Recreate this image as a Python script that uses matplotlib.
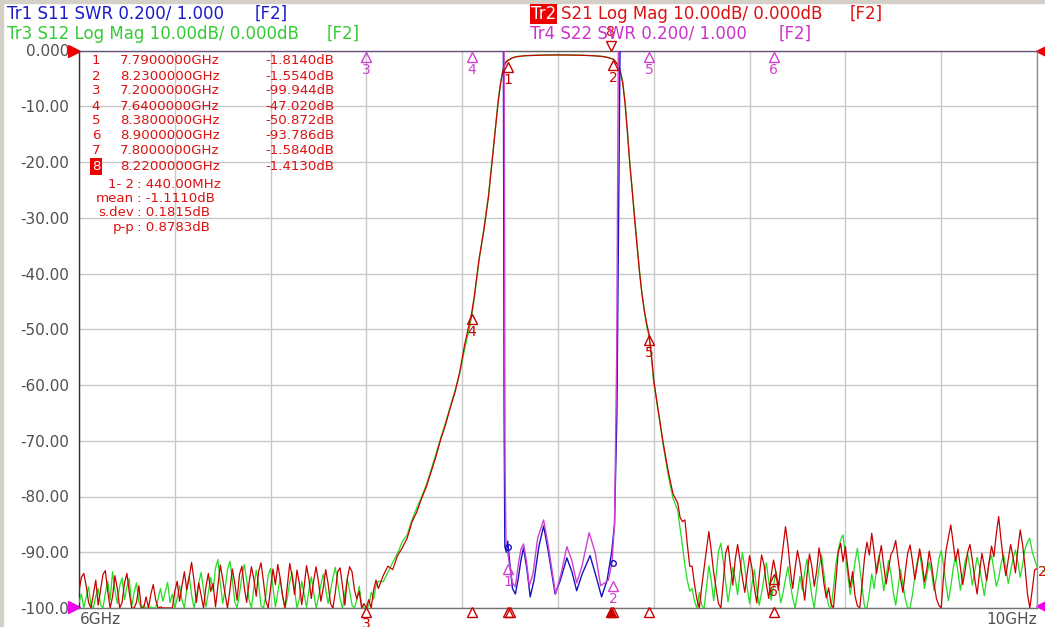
import numpy as np
import matplotlib
matplotlib.use("Agg")
import matplotlib.pyplot as plt
from matplotlib.transforms import offset_copy

plt.rcParams['font.family'] = ['DejaVu Sans']

W, H = 1045, 627

# ---- S21 (red) / S12 (green) log mag traces, dB ----
# noise floor below the passband, 6.00 .. 7.25 GHz every 10 MHz
s21_floor_lo = [
    -97, -94.5, -93.8, -96, -99, -101, -97.5, -95, -99.5, -96.8,
    -94, -93.3, -97, -100.5, -98, -94.2, -96.5, -101, -99, -95.5,
    -93.8, -97.2, -100.5, -102, -99, -96, -100.5, -101, -98, -100.8,
    -97.5, -95.8, -98.5, -101, -99.8, -100.5, -102, -101, -100.5, -101.5,
    -97, -95.2, -98.8, -96, -93.5, -96.8, -94.5, -91.8, -95, -99,
    -95.5, -97.8, -100.5, -96.2, -93.8, -97, -95.6, -99.8, -96, -92.3,
    -94.8, -97.5, -100.2, -96.8, -93, -95.4, -98.6, -94, -92.5, -96.3,
    -99, -95.5, -92.6, -94.8, -97.9, -93.4, -91.9, -95.2, -98.7, -100.5,
    -96.4, -93, -95.8, -92.2, -94.7, -97.8, -100.3, -96, -92, -94.4,
    -97.6, -93.2, -95.5, -99.4, -96.2, -92.4, -94.8, -98.3, -95, -92.6,
    -95.3, -98.8, -96.4, -93.1, -95.6, -99.2, -101, -97.3, -93.5, -92.8,
    -96, -99.5, -94.8, -92.6, -93.5, -96.7, -98.4, -97, -100.8, -99.2,
    -100.5, -98.5, -100, -96.8, -95, -96.5]
s12_floor_lo = [
    -99, -97.5, -100.5, -98, -96.2, -99.5, -101, -97.8, -96.5, -99.4,
    -100.5, -97.3, -95.2, -98.6, -93.5, -96.8, -99.2, -96, -94.6, -98.5,
    -96.2, -94.7, -99.8, -97.2, -95.5, -98.9, -100.8, -99.5, -101, -100.5,
    -99.8, -101.2, -100.5, -98.4, -96.5, -98.8, -97.1, -95.4, -99, -97.5,
    -100.8, -98.2, -96, -98.5, -100.6, -96.5, -94.2, -97.6, -100.5, -98,
    -95.5, -93.6, -96.8, -99.8, -97.1, -94.5, -96.9, -92.8, -91.3, -95.6,
    -99.2, -96.6, -93.1, -91.6, -94.7, -98.8, -101, -97.5, -94.3, -92.2,
    -94.9, -98.5, -100.8, -96.4, -93.2, -95.7, -99.6, -101, -97.8, -94.1,
    -92.9, -96.3, -99.8, -97.2, -94.6, -97.9, -100.6, -98.2, -95.3, -93.6,
    -96.7, -100.2, -98.4, -95.2, -97.6, -99.9, -96.8, -94.4, -97.3, -100.4,
    -98.1, -95.8, -93.9, -96.5, -99.2, -97, -94.6, -92.7, -95.4, -98.3,
    -100.6, -97.4, -94.8, -96.9, -99.5, -101, -98.6, -96.1, -99.3, -100.8,
    -101, -99.6, -97.2, -98.4, -96, -95.2]

# lower skirt
rise_freq = [7.27, 7.29, 7.31, 7.33, 7.35, 7.37, 7.39, 7.41, 7.43, 7.45,
             7.47, 7.49, 7.51, 7.53, 7.55, 7.57, 7.59, 7.61, 7.63, 7.64,
             7.65, 7.67, 7.69, 7.71, 7.73, 7.75, 7.76, 7.77, 7.78, 7.79]
s21_rise = [-94.2, -92.5, -93.1, -90.6, -89.2, -87.5, -84.6, -82.8, -80.4, -78.3,
            -75.6, -72.9, -69.8, -67.2, -64.1, -61.3, -57.6, -52.8, -48.9, -47.0,
            -44.2, -37.5, -32.4, -26.2, -17.8, -9.3, -6.0, -3.6, -2.3, -1.81]
s12_rise = [-95.3, -93.6, -91.8, -90.2, -88.1, -86.9, -84.2, -82.1, -80.1, -77.9,
            -75.2, -72.4, -69.5, -66.8, -63.9, -61.0, -57.9, -53.6, -49.8, -47.6,
            -44.6, -37.8, -32.1, -25.8, -17.5, -9.0, -5.8, -3.4, -2.1, -1.7]

# passband
pass_freq = [7.80, 7.81, 7.83, 7.86, 7.90, 7.95, 8.00, 8.05, 8.10, 8.15, 8.18, 8.20, 8.22, 8.23]
s21_pass = [-1.58, -1.3, -1.1, -0.95, -0.88, -0.82, -0.8, -0.82, -0.86, -0.95, -1.05, -1.18, -1.41, -1.55]
s12_pass = [-1.55, -1.28, -1.07, -0.93, -0.86, -0.8, -0.78, -0.8, -0.84, -0.93, -1.03, -1.16, -1.39, -1.52]

# upper skirt
fall_freq = [8.24, 8.25, 8.26, 8.27, 8.28, 8.29, 8.30, 8.31, 8.32, 8.33,
             8.34, 8.35, 8.36, 8.37, 8.38, 8.39, 8.40, 8.42, 8.44, 8.46,
             8.48, 8.50, 8.51, 8.52, 8.53, 8.54, 8.55]
s21_fall = [-2.0, -2.6, -3.8, -5.8, -9.5, -14.8, -20.5, -25.2, -30.3, -35.0,
            -39.6, -43.5, -46.6, -48.9, -50.87, -54.5, -59.2, -65.0, -70.6, -75.4,
            -79.5, -81.2, -83.8, -84.5, -84.2, -88.6, -92.5]
s12_fall = [-1.95, -2.5, -3.6, -5.5, -9.2, -14.5, -20.2, -25.0, -30.0, -34.8,
            -39.4, -43.4, -46.5, -49.5, -51.2, -55.0, -59.6, -65.2, -71.0, -76.2,
            -80.3, -82.5, -85.8, -88.9, -92.4, -95.1, -97.0]

# noise floor above the passband, 8.56 .. 10.00 GHz every 10 MHz
s21_floor_hi = [
    -92.5, -95.8, -98.4, -101, -96.2, -92.8, -89.5, -86.3, -89.8, -93.6,
    -96.5, -99.2, -101, -95.4, -90.2, -88.8, -92.4, -95.9, -91.3, -88.6,
    -91.5, -94.6, -97.2, -93.8, -90.6, -92.9, -96.4, -99.1, -94.3, -90.5,
    -92.2, -95.8, -98.3, -94.1, -91.4, -93.7, -96.8, -92.5, -88.9, -85.4,
    -88.7, -93.2, -96.5, -92.8, -89.7, -91.9, -95.2, -98.6, -94, -90.3,
    -92.6, -96.1, -93.4, -89.2, -91.8, -95.5, -98.2, -96.4, -99.3, -101.5,
    -95.2, -90.1, -88.4, -91.7, -89, -92.8, -96.3, -93.5, -97.8, -99.6,
    -101.2, -95.6, -90.9, -88.2, -90.5, -86.6, -89.9, -93.8, -91.2, -88.8,
    -92.4, -95.7, -93.1, -90.4, -89.6, -87.9, -91.3, -94.6, -97.2, -93.5,
    -90.2, -88.7, -91.6, -94.9, -92.3, -89.4, -91.8, -95.3, -93.1, -89.8,
    -92.4, -95.6, -98.3, -99.5, -101, -94.2, -89.7, -87.4, -85.1, -88.3,
    -91.6, -89.4, -92.7, -95.8, -93.2, -90.1, -88.6, -91.4, -94.8, -97.5,
    -93.6, -90.2, -92.5, -95.1, -91.7, -88.9, -90.8, -86.7, -83.6, -87.9,
    -91.5, -94.2, -91.3, -88.6, -90.9, -93.7, -89.4, -86, -88.7, -92.6,
    -97.4, -101.5, -96.8, -93.2, -92.9]
s12_floor_hi = [
    -96.5, -98.8, -100.6, -97.2, -99.5, -101, -96.3, -92.4, -95.1, -98.7,
    -94.2, -89.8, -88.4, -91.6, -95.3, -98.9, -96.1, -92.7, -94.8, -97.6,
    -93.5, -90.1, -92.8, -96.4, -99.2, -95.7, -93.1, -96.8, -99.5, -97.3,
    -94.6, -91.9, -95.2, -98.6, -96, -93.4, -95.9, -99.1, -97.2, -94.8,
    -92.6, -95.7, -98.2, -100.8, -97.4, -94.3, -96.8, -93.5, -91.2, -94.6,
    -97.9, -100.5, -96.3, -92.8, -90.4, -93.7, -97.1, -99.6, -101.2, -96.5,
    -92.2, -89.6, -87.8, -86.9, -90.5, -94.2, -97.6, -95.1, -91.8, -89.3,
    -92.7, -96.4, -99.8, -101, -97.3, -93.9, -96.5, -92.8, -90.6, -93.4,
    -96.9, -94.2, -91.5, -93.8, -97.2, -99.5, -96.3, -93.1, -95.8, -98.4,
    -100.8, -101.5, -97.6, -94.3, -91.7, -90.2, -92.9, -96.5, -94.1, -91.8,
    -93.6, -96.9, -94.5, -91.3, -89.7, -92.4, -95.8, -98.7, -96.2, -92.9,
    -90.8, -93.5, -96.8, -94.1, -91.6, -90.3, -92.7, -95.9, -93.4, -90.9,
    -92.6, -95.3, -97.8, -94.6, -91.9, -90.5, -93.2, -96.1, -94.7, -92,
    -90.4, -92.8, -95.6, -93.3, -91.1, -89.6, -91.8, -94.5, -92.2, -89.4,
    -88.2, -87.5, -89.9, -91.3, -92.6]

# ---- S11 (blue) / S22 (magenta) SWR traces ----
s11_freq = [6.0, 7.772, 7.775, 7.778, 7.784, 7.79, 7.80, 7.81, 7.822, 7.833,
            7.845, 7.856, 7.87, 7.884, 7.90, 7.92, 7.94, 7.96, 7.988, 8.01,
            8.037, 8.058, 8.078, 8.10, 8.134, 8.16, 8.182, 8.205, 8.224, 8.236,
            8.246, 8.253, 8.259, 10.0]
s11_swr = [3.5, 3.5, 1.7, 1.22, 1.2, 1.24, 1.15, 1.07, 1.05, 1.1,
           1.17, 1.216, 1.14, 1.04, 1.1, 1.22, 1.294, 1.2, 1.05, 1.1,
           1.18, 1.13, 1.062, 1.12, 1.188, 1.11, 1.04, 1.1, 1.2, 1.3,
           1.7, 2.4, 3.5, 3.5]
s22_freq = [6.0, 7.775, 7.779, 7.783, 7.79, 7.80, 7.81, 7.822, 7.835, 7.845,
            7.856, 7.868, 7.88, 7.895, 7.915, 7.94, 7.96, 7.99, 8.012, 8.037,
            8.058, 8.078, 8.10, 8.13, 8.155, 8.178, 8.195, 8.21, 8.225, 8.236,
            8.245, 8.252, 10.0]
s22_swr = [3.5, 3.5, 1.5, 1.22, 1.2, 1.14, 1.09, 1.076, 1.16, 1.21,
           1.23, 1.17, 1.08, 1.12, 1.25, 1.316, 1.22, 1.05, 1.12, 1.22,
           1.17, 1.09, 1.15, 1.27, 1.2, 1.08, 1.09, 1.1, 1.16, 1.3,
           1.9, 3.5, 3.5]

# ---- markers ----
mk_ids = ['1', '2', '3', '4', '5', '6', '7', '8']
mk_freq = [7.79, 8.23, 7.2, 7.64, 8.38, 8.9, 7.8, 8.22]
mk_val = [-1.814, -1.554, -99.944, -47.02, -50.872, -93.786, -1.584, -1.413]
stat_names = ['1- 2', 'mean', 's.dev', 'p-p']
stat_vals = ['440.00MHz', '-1.1110dB', '0.1815dB', '0.8783dB']

ytick_vals = [0, -10, -20, -30, -40, -50, -60, -70, -80, -90, -100]
ytick_text = ['0.000', '-10.00', '-20.00', '-30.00', '-40.00', '-50.00',
              '-60.00', '-70.00', '-80.00', '-90.00', '-100.0']

RED = '#c80000'
GREEN = '#22dd22'
BLUE = '#1414c0'
MAG = '#d040d0'
TXT_RED = '#dd1111'


def fpos(x, y):
    return x / W, 1 - y / H


floor_lo_freq = np.round(np.arange(6.0, 7.255, 0.01), 2)
floor_hi_freq = np.round(np.arange(8.56, 10.005, 0.01), 2)
freq = np.concatenate([floor_lo_freq, rise_freq, pass_freq, fall_freq, floor_hi_freq])
s21 = np.clip(np.concatenate([s21_floor_lo, s21_rise, s21_pass, s21_fall, s21_floor_hi]), -100, 0)
s12 = np.clip(np.concatenate([s12_floor_lo, s12_rise, s12_pass, s12_fall, s12_floor_hi]), -100, 0)
s11_y = np.clip(-100 + (np.array(s11_swr) - 1) / 0.2 * 10, -100, 0)
s22_y = np.clip(-100 + (np.array(s22_swr) - 1) / 0.2 * 10, -100, 0)

fig = plt.figure(figsize=(W / 100, H / 100), dpi=100)
ax = fig.add_axes([79 / W, 1 - 608 / H, 958 / W, 557.5 / H])
ax.set_xlim(6, 10)
ax.set_ylim(-100, 0)
ax.set_xticks(np.linspace(6, 10, 11))
ax.set_xticklabels([])
ax.set_yticks(ytick_vals)
ax.set_yticklabels(ytick_text, color='#505050', fontsize=11)
ax.tick_params(length=0, pad=7)
ax.grid(True, color='#c8c8c8', lw=1)
ax.set_axisbelow(True)
for side, c in [('left', '#303030'), ('bottom', '#707070'), ('right', '#909090'), ('top', '#606060')]:
    ax.spines[side].set_color(c)
    ax.spines[side].set_linewidth(1)

ax.plot(freq, s12, color=GREEN, lw=0.9, zorder=3)
ax.plot(freq, s21, color=RED, lw=0.9, zorder=4)
ax.plot(s11_freq, s11_y, color=BLUE, lw=1.0, zorder=5)
ax.plot(s22_freq, s22_y, color=MAG, lw=1.0, zorder=6)

# marker symbols
below = offset_copy(ax.transData, fig=fig, x=0, y=-6, units='dots')
lab_below = offset_copy(ax.transData, fig=fig, x=0, y=-19, units='dots')
for i in [0, 1, 3, 4, 5]:
    ax.plot(mk_freq[i], mk_val[i], marker='^', ms=7, mfc='none', mec=RED, mew=1,
            transform=below, zorder=7, clip_on=False)
    ax.text(mk_freq[i], mk_val[i], mk_ids[i], color=RED, fontsize=10, ha='center', va='center',
            transform=lab_below, zorder=7)
# S22 markers clipped to the top
for i in [2, 3, 4, 5]:
    ax.plot(mk_freq[i], 0, marker='^', ms=7, mfc='none', mec=MAG, mew=1,
            transform=below, zorder=7, clip_on=False)
    ax.text(mk_freq[i], 0, mk_ids[i], color=MAG, fontsize=10, ha='center', va='center',
            transform=lab_below, zorder=7)
# SWR markers in the passband
for f, lab, yy in [(7.79, '1', -92.0), (8.23, '2', -95.0)]:
    ax.plot(f, yy, marker='^', ms=7, mfc='none', mec=MAG, mew=1, transform=below, zorder=7)
    ax.text(f, yy, lab, color=MAG, fontsize=10, ha='center', va='center', transform=lab_below, zorder=7)
    ax.plot(f, yy + 3, marker='o', ms=4, mfc='none', mec=BLUE, mew=1, zorder=7)
# active marker 8 on top
above = offset_copy(ax.transData, fig=fig, x=0, y=5, units='dots')
ax.plot(mk_freq[7], 0, marker='v', ms=7, mfc='none', mec=RED, mew=1, transform=above,
        zorder=8, clip_on=False)
ax.text(mk_freq[7], 0, mk_ids[7], color=RED, fontsize=10, ha='center', va='center',
        transform=offset_copy(ax.transData, fig=fig, x=0, y=18, units='dots'), zorder=8)
# marker strip under the axis
strip = offset_copy(ax.transData, fig=fig, x=0, y=-4, units='dots')
for i in range(7):
    ax.plot(mk_freq[i], -100, marker='^', ms=7, mfc='none', mec=RED, mew=1,
            transform=strip, clip_on=False, zorder=8)
ax.plot(mk_freq[7], -100, marker='^', ms=7, mfc=RED, mec=RED, mew=1,
        transform=strip, clip_on=False, zorder=8)
ax.text(mk_freq[2], -100, '3', color=RED, fontsize=10, ha='center', va='center',
        transform=offset_copy(ax.transData, fig=fig, x=0, y=-16, units='dots'), clip_on=False)

# reference position arrows
ax.plot(6, 0, marker='>', ms=8, color='#ee0000', transform=offset_copy(ax.transData, fig=fig, x=-5, y=0, units='dots'), clip_on=False)
ax.plot(6, -100, marker='>', ms=8, color='#ee00ee', transform=offset_copy(ax.transData, fig=fig, x=-5, y=1, units='dots'), clip_on=False)
ax.plot(10, 0, marker='<', ms=8, color='#ee0000', transform=offset_copy(ax.transData, fig=fig, x=5, y=0, units='dots'), clip_on=False)
ax.plot(10, -100, marker='<', ms=8, color='#ee00ee', transform=offset_copy(ax.transData, fig=fig, x=5, y=2, units='dots'), clip_on=False)
fig.text(*fpos(1039, 572), '3', color=GREEN, fontsize=10, va='center')
fig.text(*fpos(1038, 572), '2', color=TXT_RED, fontsize=10, va='center')

# x labels
fig.text(*fpos(80, 620), '6GHz', color='#505050', fontsize=11, va='center')
fig.text(*fpos(1037, 620), '10GHz', color='#505050', fontsize=11, va='center', ha='right')

# trace headers
fig.text(*fpos(7, 14), 'Tr1 S11 SWR 0.200/ 1.000', color='#1a1acc', fontsize=12, va='center')
fig.text(*fpos(255, 14), '[F2]', color='#1a1acc', fontsize=12, va='center')
fig.text(*fpos(7, 34), 'Tr3 S12 Log Mag 10.00dB/ 0.000dB', color='#33cc33', fontsize=12, va='center')
fig.text(*fpos(327, 34), '[F2]', color='#33cc33', fontsize=12, va='center')
fig.text(*fpos(531, 14), 'Tr2', color='white', fontsize=12, va='center',
         bbox=dict(boxstyle='square,pad=0.05', fc='#ee0000', ec='none'))
fig.text(*fpos(561, 14), 'S21 Log Mag 10.00dB/ 0.000dB', color=TXT_RED, fontsize=12, va='center')
fig.text(*fpos(850, 14), '[F2]', color=TXT_RED, fontsize=12, va='center')
fig.text(*fpos(530, 34), 'Tr4 S22 SWR 0.200/ 1.000', color='#cc33cc', fontsize=12, va='center')
fig.text(*fpos(779, 34), '[F2]', color='#cc33cc', fontsize=12, va='center')

# marker table
for i in range(8):
    yy = 61 + 15 * i
    f_txt = '%.7fGHz' % mk_freq[i]
    v_txt = ('%.4fdB' if abs(mk_val[i]) < 10 else '%.3fdB') % mk_val[i]
    if i == 7:
        fig.text(*fpos(96, yy), mk_ids[i], color='white', fontsize=9.6, va='center', ha='center',
                 bbox=dict(boxstyle='square,pad=0.15', fc='#ee0000', ec='none'))
    else:
        fig.text(*fpos(96, yy), mk_ids[i], color=TXT_RED, fontsize=9.6, va='center', ha='center')
    fig.text(*fpos(120, yy), f_txt, color=TXT_RED, fontsize=9.6, va='center')
    fig.text(*fpos(265, yy), v_txt, color=TXT_RED, fontsize=9.6, va='center')
for i in range(4):
    yy = 184 + 14.5 * i
    fig.text(*fpos(134, yy), stat_names[i], color=TXT_RED, fontsize=9.6, va='center', ha='right')
    fig.text(*fpos(137, yy), ': ' + stat_vals[i], color=TXT_RED, fontsize=9.6, va='center')

# window frame
fig.patches.append(plt.Rectangle((0, 1 - 3 / H), 1, 3 / H, transform=fig.transFigure, color='#d4d0c8'))
fig.patches.append(plt.Rectangle((0, 0), 3 / W, 1, transform=fig.transFigure, color='#d4d0c8'))

fig.savefig('out.png', dpi=100)
